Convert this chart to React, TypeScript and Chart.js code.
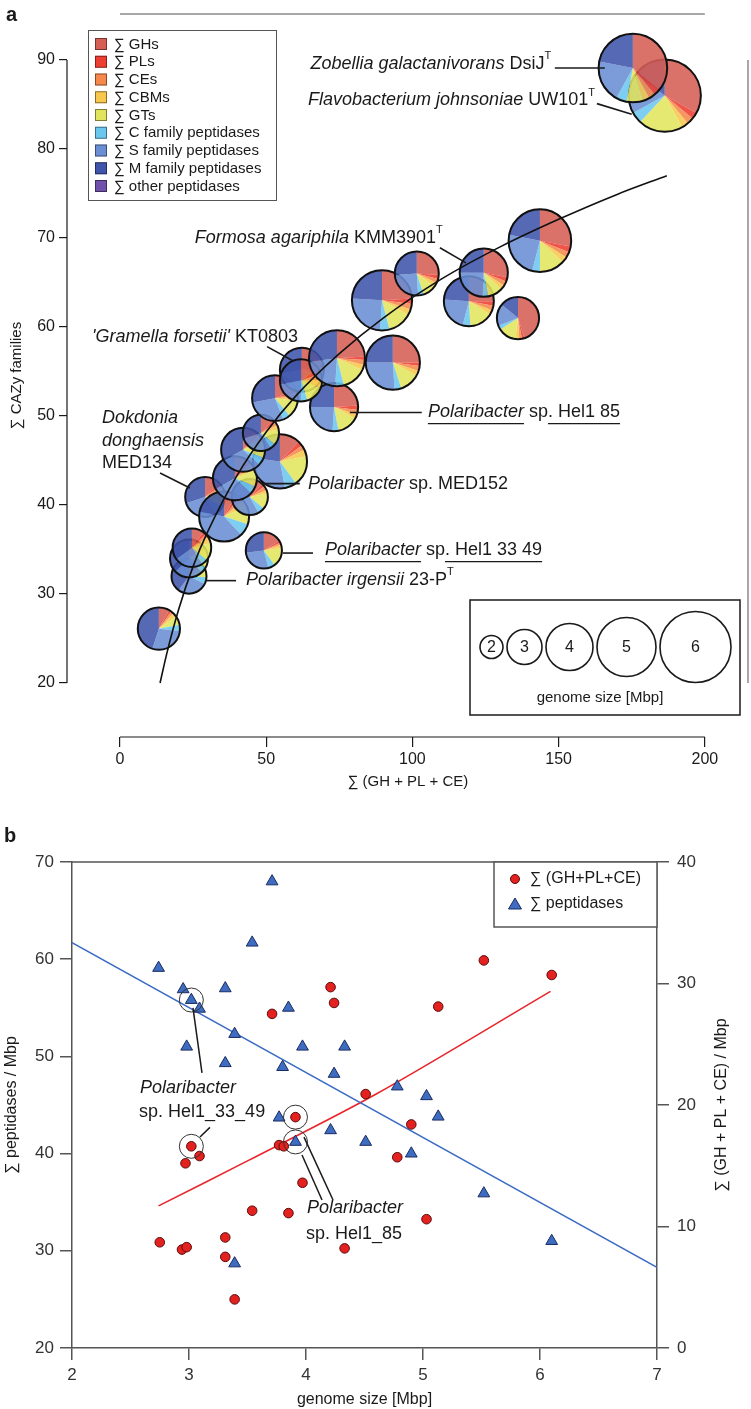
import React, { useEffect, useRef } from "react";
import { Chart, registerables } from "chart.js";
Chart.register(...registerables);

const FONT = '"Liberation Sans", Arial, Helvetica, sans-serif';
const INK = "#1a1a1a";

// ---------------- Panel a data ----------------
const sumGhPlCe = [13.3, 23.6, 23.6, 24.6, 49.2, 29.1, 35.6, 44.4, 39.3, 54.7, 42.1, 48.2, 53.0, 73.2, 62.2, 61.9, 74.2, 93.3, 89.6, 101.5, 119.3, 124.4, 136.1, 143.6, 186.3, 175.4];
const sumCazyFamilies = [26.1, 32.0, 34.0, 35.2, 34.9, 40.9, 38.7, 40.9, 43.0, 44.9, 46.2, 48.1, 52.0, 51.0, 55.2, 54.0, 56.5, 56.0, 63.0, 66.0, 62.9, 66.1, 61.0, 69.7, 86.0, 89.1];
const genomeSizeA = [3.6, 3.0, 3.25, 3.3, 3.1, 3.4, 4.25, 3.1, 3.75, 4.6, 3.75, 3.1, 3.9, 4.1, 3.75, 3.6, 4.75, 4.6, 5.1, 3.75, 4.25, 4.1, 3.6, 5.3, 6.1, 5.8];
const ghs = [8, 8, 10, 10, 16, 12, 8, 12, 10, 12, 10, 12, 18, 24, 20, 15, 24, 25, 24, 26, 25, 28, 45, 28, 33, 36];
const pls = [2, 3, 4, 3, 2, 3, 3, 3, 3, 3, 3, 3, 3, 3, 4, 5, 2, 2, 3, 3, 3, 3, 2, 3, 3, 3];
const ces = [2, 2, 3, 3, 2, 3, 3, 4, 3, 3, 3, 3, 3, 3, 5, 5, 3, 3, 3, 3, 3, 3, 2, 3, 3, 3];
const cbms = [3, 3, 4, 5, 3, 3, 4, 3, 3, 4, 3, 4, 3, 3, 5, 6, 3, 3, 3, 3, 3, 3, 3, 3, 3, 3];
const gts = [7, 10, 12, 15, 17, 12, 12, 14, 12, 18, 12, 14, 12, 14, 12, 14, 14, 12, 13, 10, 15, 10, 14, 13, 20, 8];
const cPeptidases = [5, 6, 5, 5, 6, 7, 8, 6, 6, 7, 6, 5, 5, 4, 4, 5, 5, 4, 5, 4, 5, 4, 3, 4, 5, 5];
const sPeptidases = [28, 28, 25, 24, 27, 30, 40, 28, 30, 30, 30, 29, 28, 24, 22, 22, 22, 26, 25, 25, 22, 24, 17, 24, 18, 20];
const mPeptidases = [45, 40, 37, 35, 27, 30, 22, 30, 33, 23, 33, 30, 28, 25, 28, 28, 27, 25, 24, 26, 24, 25, 14, 22, 15, 22];
const otherPeptidases = [0, 0, 0, 0, 0, 0, 0, 0, 0, 0, 0, 0, 0, 0, 0, 0, 0, 0, 0, 0, 0, 0, 0, 0, 0, 0];
const categoryLabels = ["∑ GHs", "∑ PLs", "∑ CEs", "∑ CBMs", "∑ GTs", "∑ C family peptidases", "∑ S family peptidases", "∑ M family peptidases", "∑ other peptidases"];
const categoryColors = ["#d65f55", "#ee3d31", "#f5884a", "#f8c84c", "#e1e55d", "#6cc7ef", "#6a8ed4", "#3f54aa", "#7050ab"];
const fitX = [13.7, 16, 20, 25, 30, 40, 50, 60, 75, 90, 110, 130, 150, 170, 187];
const fitY = [20.0, 23.3, 28.2, 33.1, 37.0, 43.3, 48.2, 52.2, 57.0, 61.0, 65.4, 69.0, 72.1, 74.9, 77.0];
const xTicksA = [0, 50, 100, 150, 200];
const yTicksA = [20, 30, 40, 50, 60, 70, 80, 90];
const sizeLegendMbp = [2, 3, 4, 5, 6];

// ---------------- Panel b data ----------------
const genomeSizeRed = [3.71, 4.21, 4.24, 5.52, 6.10, 5.13, 4.51, 3.91, 3.02, 3.09, 2.97, 3.77, 3.81, 3.97, 3.54, 3.85, 2.75, 2.94, 2.98, 3.31, 3.31, 4.33, 3.39, 4.90, 4.78, 5.03];
const cazyPerMbp = [27.5, 29.7, 28.4, 31.9, 30.7, 28.1, 20.9, 19.0, 16.6, 15.8, 15.2, 16.7, 16.6, 13.6, 11.3, 11.1, 8.7, 8.1, 8.3, 9.1, 7.5, 8.2, 4.0, 18.4, 15.7, 10.6];
const genomeSizeBlue = [3.71, 3.54, 2.74, 2.95, 3.02, 3.09, 3.31, 3.39, 2.98, 3.31, 3.85, 3.80, 3.97, 4.24, 4.33, 3.77, 3.91, 4.21, 4.51, 3.39, 4.78, 5.03, 5.13, 4.90, 5.52, 6.10];
const peptidasesPerMbp = [68.0, 61.7, 59.1, 56.9, 55.8, 54.9, 57.0, 52.3, 51.0, 49.3, 55.0, 48.9, 51.0, 48.2, 51.0, 43.7, 41.2, 42.4, 41.2, 28.7, 46.9, 45.9, 43.8, 40.0, 35.9, 31.0];
const pepFitX = [2, 7];
const pepFitY = [61.7, 28.3];
const cazyFitX = [2.74, 3.5, 4.6, 6.09];
const cazyFitY = [11.7, 15.4, 20.9, 29.35];
const highlightedGenomes = [3.02, 3.91];

// ---------------- helpers ----------------
function radiusFor(sizeMbp: number) {
  return 6 * sizeMbp - 0.5;
}

type Seg = { t: string; i?: boolean; sup?: boolean; u?: boolean };

function drawRich(ctx: CanvasRenderingContext2D, segs: Seg[], x: number, y: number, size: number, align: string) {
  const fontOf = (s: Seg) => `${s.i ? "italic " : ""}${s.sup ? Math.round(size * 0.62) : size}px ${FONT}`;
  const widths = segs.map((s) => {
    ctx.font = fontOf(s);
    return ctx.measureText(s.t).width;
  });
  const total = widths.reduce((a, b) => a + b, 0);
  let cx = align === "right" ? x - total : align === "center" ? x - total / 2 : x;
  ctx.textAlign = "left";
  ctx.textBaseline = "middle";
  segs.forEach((s, k) => {
    ctx.font = fontOf(s);
    ctx.fillText(s.t, cx, s.sup ? y - size * 0.42 : y);
    if (s.u) {
      ctx.beginPath();
      ctx.moveTo(cx, y + size * 0.62);
      ctx.lineTo(cx + widths[k], y + size * 0.62);
      ctx.lineWidth = 1.2;
      ctx.stroke();
    }
    cx += widths[k];
  });
}

const compositions = [ghs, pls, ces, cbms, gts, cPeptidases, sPeptidases, mPeptidases, otherPeptidases];

function drawPie(ctx: CanvasRenderingContext2D, cx: number, cy: number, r: number, idx: number) {
  const vals = compositions.map((a) => a[idx]);
  const tot = vals.reduce((a, b) => a + b, 0);
  let a0 = -Math.PI / 2;
  ctx.save();
  ctx.globalAlpha = 0.88;
  vals.forEach((v, k) => {
    if (!v) return;
    const a1 = a0 + (v / tot) * Math.PI * 2;
    ctx.beginPath();
    ctx.moveTo(cx, cy);
    ctx.arc(cx, cy, r, a0, a1);
    ctx.closePath();
    ctx.fillStyle = categoryColors[k];
    ctx.fill();
    a0 = a1;
  });
  ctx.globalAlpha = 1;
  ctx.beginPath();
  ctx.arc(cx, cy, r, 0, Math.PI * 2);
  ctx.lineWidth = 2;
  ctx.strokeStyle = "#111";
  ctx.stroke();
  ctx.restore();
}

const annotationsA = [
  { segs: [{ t: "Zobellia galactanivorans", i: true }, { t: " DsiJ" }, { t: "T", sup: true }], at: [147.5, 89.6], align: "right", leader: [[148.7, 89.1], [165.8, 89.1]] },
  { segs: [{ t: "Flavobacterium johnsoniae", i: true }, { t: " UW101" }, { t: "T", sup: true }], at: [162.4, 85.5], align: "right", leader: [[163.1, 85.1], [175.0, 83.9]] },
  { segs: [{ t: "Formosa agariphila", i: true }, { t: " KMM3901" }, { t: "T", sup: true }], at: [25.6, 70.0], align: "left", leader: [[109.4, 68.9], [118.3, 67.2]] },
  { segs: [{ t: "'Gramella forsetii'", i: true }, { t: " KT0803" }], at: [60.9, 58.9], align: "right", leader: [[50.3, 57.8], [59.1, 56.2]] },
  { segs: [{ t: "Dokdonia", i: true }], at: [-6.15, 49.8], align: "left", leader: null },
  { segs: [{ t: "donghaensis", i: true }], at: [-6.15, 47.2], align: "left", leader: null },
  { segs: [{ t: "MED134" }], at: [-6.15, 44.7], align: "left", leader: [[13.7, 43.6], [23.9, 41.9]] },
  { segs: [{ t: "Polaribacter", i: true, u: true }, { t: " sp" }, { t: ". Hel1 85", u: true }], at: [105.3, 50.4], align: "left", leader: [[78.6, 50.4], [103.2, 50.4]] },
  { segs: [{ t: "Polaribacter", i: true }, { t: " sp. MED152" }], at: [64.3, 42.4], align: "left", leader: [[48.5, 42.4], [61.5, 42.4]] },
  { segs: [{ t: "Polaribacter", i: true, u: true }, { t: " sp" }, { t: ". Hel1 33 49", u: true }], at: [70.1, 34.9], align: "left", leader: [[55.7, 34.6], [66.0, 34.6]] },
  { segs: [{ t: "Polaribacter irgensii", i: true }, { t: " 23-P" }, { t: "T", sup: true }], at: [43.1, 31.6], align: "left", leader: [[29.4, 31.5], [39.7, 31.5]] },
];

const annotationsB = [
  { segs: [{ t: "Polaribacter", i: true }], at: [2.581, 46.75] },
  { segs: [{ t: "sp. Hel1_33_49" }], at: [2.573, 44.28] },
  { segs: [{ t: "Polaribacter", i: true }], at: [4.009, 34.4] },
  { segs: [{ t: "sp. Hel1_85" }], at: [4.0, 31.73] },
];
const leadersB = [
  [[3.034, 55.0], [3.111, 48.3]],
  [[3.094, 41.7], [3.179, 42.7]],
  [[3.966, 39.86], [4.137, 35.23]],
  [[3.983, 41.7], [4.231, 35.23]],
];

// ---------------- plugins ----------------
const panelAPlugin = {
  id: "panelA",
  afterDatasetDraw(chart: any, args: any) {
    if (args.index !== 1) return;
    const ctx = chart.ctx;
    const meta = chart.getDatasetMeta(1);
    meta.data.forEach((el: any, i: number) => drawPie(ctx, el.x, el.y, radiusFor(genomeSizeA[i]), i));
  },
  afterDraw(chart: any) {
    const ctx: CanvasRenderingContext2D = chart.ctx;
    const xs = chart.scales.x;
    const ys = chart.scales.y;
    const area = chart.chartArea;
    ctx.save();
    // axis lines
    ctx.strokeStyle = INK;
    ctx.lineWidth = 1.2;
    ctx.beginPath();
    ctx.moveTo(area.left, ys.getPixelForValue(yTicksA[0]));
    ctx.lineTo(area.left, ys.getPixelForValue(yTicksA[yTicksA.length - 1]));
    ctx.moveTo(xs.getPixelForValue(xTicksA[0]), area.bottom);
    ctx.lineTo(xs.getPixelForValue(xTicksA[xTicksA.length - 1]), area.bottom);
    ctx.stroke();
    ctx.strokeStyle = "#8c8c8c";
    ctx.lineWidth = 1.5;
    ctx.beginPath();
    ctx.moveTo(xs.getPixelForValue(xTicksA[0]), area.top);
    ctx.lineTo(xs.getPixelForValue(xTicksA[xTicksA.length - 1]), area.top);
    ctx.moveTo(area.right - 1, ys.getPixelForValue(yTicksA[0]));
    ctx.lineTo(area.right - 1, ys.getPixelForValue(yTicksA[yTicksA.length - 1]));
    ctx.stroke();

    // annotations
    ctx.fillStyle = INK;
    ctx.strokeStyle = INK;
    annotationsA.forEach((a) => {
      if (a.leader) {
        ctx.beginPath();
        ctx.lineWidth = 1.6;
        ctx.moveTo(xs.getPixelForValue(a.leader[0][0]), ys.getPixelForValue(a.leader[0][1]));
        ctx.lineTo(xs.getPixelForValue(a.leader[1][0]), ys.getPixelForValue(a.leader[1][1]));
        ctx.stroke();
      }
      drawRich(ctx, a.segs as Seg[], xs.getPixelForValue(a.at[0]), ys.getPixelForValue(a.at[1]), 18, a.align);
    });

    // category legend
    const lx = 88, ly = 30, lw = 188, lh = 170;
    ctx.fillStyle = "#fff";
    ctx.fillRect(lx, ly, lw, lh);
    ctx.strokeStyle = "#555";
    ctx.lineWidth = 1;
    ctx.strokeRect(lx + 0.5, ly + 0.5, lw, lh);
    categoryLabels.forEach((lab, k) => {
      const cy = 44 + k * 17.75;
      ctx.fillStyle = categoryColors[k];
      ctx.fillRect(95, cy - 6, 12, 12);
      ctx.strokeStyle = "rgba(0,0,0,0.45)";
      ctx.strokeRect(95.5, cy - 5.5, 11, 11);
      ctx.fillStyle = INK;
      ctx.font = `15px ${FONT}`;
      ctx.textAlign = "left";
      ctx.textBaseline = "middle";
      ctx.fillText(lab, 114, cy + 0.5);
    });

    // genome-size legend
    const bx = 470, by = 600, bw = 270, bh = 115;
    ctx.fillStyle = "#fff";
    ctx.fillRect(bx, by, bw, bh);
    ctx.strokeStyle = INK;
    ctx.lineWidth = 1.5;
    ctx.strokeRect(bx, by, bw, bh);
    let cursor = 480;
    sizeLegendMbp.forEach((s) => {
      const r = radiusFor(s);
      const cx = cursor + r;
      ctx.beginPath();
      ctx.arc(cx, 647, r, 0, Math.PI * 2);
      ctx.lineWidth = 1.6;
      ctx.stroke();
      ctx.fillStyle = INK;
      ctx.font = `16px ${FONT}`;
      ctx.textAlign = "center";
      ctx.textBaseline = "middle";
      ctx.fillText(String(s), cx, 648);
      cursor = cx + r + 4;
    });
    ctx.font = `15px ${FONT}`;
    ctx.fillText("genome size [Mbp]", 600, 698);

    // panel letter
    ctx.font = `bold 20px ${FONT}`;
    ctx.textAlign = "left";
    ctx.textBaseline = "middle";
    ctx.fillText("a", 6, 15);
    ctx.restore();
  },
};

const panelBPlugin = {
  id: "panelB",
  afterDraw(chart: any) {
    const ctx: CanvasRenderingContext2D = chart.ctx;
    const xs = chart.scales.x;
    const ys = chart.scales.y;
    const area = chart.chartArea;
    ctx.save();
    // top frame
    ctx.strokeStyle = "#555";
    ctx.lineWidth = 1.5;
    ctx.beginPath();
    ctx.moveTo(area.left, area.top);
    ctx.lineTo(area.right, area.top);
    ctx.stroke();

    // highlight circles
    ctx.strokeStyle = "#333";
    ctx.lineWidth = 1;
    [0, 1].forEach((d) => {
      chart.getDatasetMeta(d).data.forEach((el: any, i: number) => {
        const gx = chart.data.datasets[d].data[i].x;
        if (highlightedGenomes.some((h) => Math.abs(h - gx) < 1e-6)) {
          ctx.beginPath();
          ctx.arc(el.x, el.y, 12, 0, Math.PI * 2);
          ctx.stroke();
        }
      });
    });

    // leaders
    ctx.strokeStyle = INK;
    ctx.lineWidth = 1.5;
    leadersB.forEach((l) => {
      ctx.beginPath();
      ctx.moveTo(xs.getPixelForValue(l[0][0]), ys.getPixelForValue(l[0][1]));
      ctx.lineTo(xs.getPixelForValue(l[1][0]), ys.getPixelForValue(l[1][1]));
      ctx.stroke();
    });
    ctx.fillStyle = INK;
    annotationsB.forEach((a) => {
      drawRich(ctx, a.segs as Seg[], xs.getPixelForValue(a.at[0]), ys.getPixelForValue(a.at[1]), 18, "left");
    });

    // legend
    const lw = 163, lh = 65;
    const lx = area.right - lw, ly = area.top;
    ctx.fillStyle = "#fff";
    ctx.fillRect(lx, ly, lw, lh);
    ctx.strokeStyle = "#555";
    ctx.lineWidth = 1.5;
    ctx.strokeRect(lx, ly, lw, lh);
    const mx = lx + 21;
    ctx.beginPath();
    ctx.arc(mx, ly + 17, 4.5, 0, Math.PI * 2);
    ctx.fillStyle = "#e3211f";
    ctx.fill();
    ctx.strokeStyle = "#5a0c0c";
    ctx.lineWidth = 1;
    ctx.stroke();
    ctx.beginPath();
    ctx.moveTo(mx, ly + 36);
    ctx.lineTo(mx + 6.5, ly + 47);
    ctx.lineTo(mx - 6.5, ly + 47);
    ctx.closePath();
    ctx.fillStyle = "#3d6cc0";
    ctx.fill();
    ctx.strokeStyle = "#1b2c60";
    ctx.stroke();
    ctx.fillStyle = INK;
    ctx.font = `16px ${FONT}`;
    ctx.textAlign = "left";
    ctx.textBaseline = "middle";
    ctx.fillText("∑ (GH+PL+CE)", lx + 36, ly + 17);
    ctx.fillText("∑ peptidases", lx + 36, ly + 42);

    // right axis title
    ctx.save();
    ctx.translate(722, (area.top + area.bottom) / 2);
    ctx.rotate(-Math.PI / 2);
    ctx.font = `16px ${FONT}`;
    ctx.textAlign = "center";
    ctx.textBaseline = "middle";
    ctx.fillText("∑ (GH + PL + CE) / Mbp", 0, 0);
    ctx.restore();

    ctx.font = `bold 20px ${FONT}`;
    ctx.textAlign = "left";
    ctx.textBaseline = "middle";
    ctx.fillText("b", 4, 36);
    ctx.restore();
  },
};

// ---------------- component ----------------
export default function App() {
  const refA = useRef<HTMLCanvasElement | null>(null);
  const refB = useRef<HTMLCanvasElement | null>(null);

  useEffect(() => {
    const tickFontA = { family: FONT, size: 16 };
    const chartA = new Chart(refA.current as HTMLCanvasElement, {
      type: "bubble",
      data: {
        datasets: [
          {
            type: "line",
            label: "fit",
            data: fitX.map((x, i) => ({ x, y: fitY[i] })),
            borderColor: "#111",
            borderWidth: 1.6,
            pointRadius: 0,
            tension: 0.4,
            cubicInterpolationMode: "monotone",
            order: 0,
          } as any,
          {
            type: "bubble",
            label: "genomes",
            data: sumGhPlCe.map((x, i) => ({ x, y: sumCazyFamilies[i], r: radiusFor(genomeSizeA[i]) })),
            backgroundColor: "rgba(0,0,0,0)",
            borderWidth: 0,
            order: 1,
          } as any,
        ],
      },
      options: {
        responsive: false,
        animation: false,
        events: [],
        layout: { autoPadding: false, padding: { left: 0, right: 2, top: 14, bottom: 0 } },
        plugins: { legend: { display: false }, tooltip: { enabled: false } },
        scales: {
          x: {
            type: "linear",
            min: -18.12,
            max: 215.1,
            afterBuildTicks: (s: any) => {
              s.ticks = xTicksA.map((v) => ({ value: v }));
            },
            afterFit: (s: any) => {
              s.height = 63;
            },
            ticks: { font: tickFontA, color: INK, padding: 3, maxRotation: 0 },
            grid: { drawOnChartArea: false, drawTicks: true, tickLength: 10, color: INK, lineWidth: 1.2 },
            border: { display: false },
            title: { display: true, text: "∑ (GH + PL + CE)", font: { family: FONT, size: 15 }, color: INK, padding: { top: 2, bottom: 9 } },
          },
          y: {
            type: "linear",
            min: 13.93,
            max: 95.17,
            afterBuildTicks: (s: any) => {
              s.ticks = yTicksA.map((v) => ({ value: v }));
            },
            afterFit: (s: any) => {
              s.width = 67;
            },
            ticks: { font: tickFontA, color: INK, padding: 4 },
            grid: { drawOnChartArea: false, drawTicks: true, tickLength: 8, color: INK, lineWidth: 1.2 },
            border: { display: false },
            title: { display: true, text: "∑ CAZy families", font: { family: FONT, size: 15 }, color: INK, padding: { top: 8, bottom: 0 } },
          },
        },
      } as any,
      plugins: [panelAPlugin],
    });

    const tickFontB = { family: FONT, size: 17 };
    const gridB = { drawOnChartArea: false, drawTicks: true, tickLength: 12, color: "#555", lineWidth: 1.5 };
    const borderB = { display: true, color: "#555", width: 1.5 };
    const chartB = new Chart(refB.current as HTMLCanvasElement, {
      type: "scatter",
      data: {
        datasets: [
          {
            label: "∑ (GH+PL+CE)",
            data: genomeSizeRed.map((x, i) => ({ x, y: cazyPerMbp[i] })),
            yAxisID: "y2",
            pointStyle: "circle",
            pointRadius: 4.8,
            backgroundColor: "#e3211f",
            borderColor: "#5a0c0c",
            borderWidth: 1,
            order: 1,
          },
          {
            label: "∑ peptidases",
            data: genomeSizeBlue.map((x, i) => ({ x, y: peptidasesPerMbp[i] })),
            yAxisID: "y",
            pointStyle: "triangle",
            pointRadius: 6.8,
            backgroundColor: "#3d6cc0",
            borderColor: "#1b2c60",
            borderWidth: 1,
            order: 0,
          },
          {
            type: "line",
            label: "cazy fit",
            data: cazyFitX.map((x, i) => ({ x, y: cazyFitY[i] })),
            yAxisID: "y2",
            borderColor: "#e8262b",
            borderWidth: 1.6,
            pointRadius: 0,
            tension: 0.3,
            order: 3,
          } as any,
          {
            type: "line",
            label: "peptidase fit",
            data: pepFitX.map((x, i) => ({ x, y: pepFitY[i] })),
            yAxisID: "y",
            borderColor: "#3b6cc4",
            borderWidth: 1.6,
            pointRadius: 0,
            order: 2,
          } as any,
        ],
      },
      options: {
        responsive: false,
        animation: false,
        events: [],
        layout: { autoPadding: false, padding: { left: 0, right: 0, top: 62, bottom: 0 } },
        plugins: { legend: { display: false }, tooltip: { enabled: false } },
        scales: {
          x: {
            type: "linear",
            min: 2,
            max: 7,
            ticks: { stepSize: 1, font: tickFontB, color: "#333", padding: 5, maxRotation: 0 },
            afterFit: (s: any) => {
              s.height = 61;
            },
            grid: gridB,
            border: borderB,
            title: { display: true, text: "genome size [Mbp]", font: { family: FONT, size: 16 }, color: INK, padding: { top: 0, bottom: 0 } },
          },
          y: {
            type: "linear",
            position: "left",
            min: 20,
            max: 70,
            ticks: { stepSize: 10, font: tickFontB, color: "#333", padding: 6 },
            afterFit: (s: any) => {
              s.width = 72;
            },
            grid: gridB,
            border: borderB,
            title: { display: true, text: "∑ peptidases / Mbp", font: { family: FONT, size: 16 }, color: INK, padding: { top: 2, bottom: 0 } },
          },
          y2: {
            type: "linear",
            position: "right",
            min: 0,
            max: 40,
            ticks: { stepSize: 10, font: tickFontB, color: "#333", padding: 8 },
            afterFit: (s: any) => {
              s.width = 94;
            },
            grid: gridB,
            border: borderB,
            title: { display: false },
          },
        },
      } as any,
      plugins: [panelBPlugin],
    });

    return () => {
      chartA.destroy();
      chartB.destroy();
    };
  }, []);

  return (
    <div style={{ position: "absolute", left: 0, top: 0, width: 751, height: 1409, background: "#fff" }}>
      <canvas ref={refA} width={751} height={800} style={{ position: "absolute", left: 0, top: 0, width: 751, height: 800 }} />
      <canvas ref={refB} width={751} height={609} style={{ position: "absolute", left: 0, top: 800, width: 751, height: 609 }} />
    </div>
  );
}
